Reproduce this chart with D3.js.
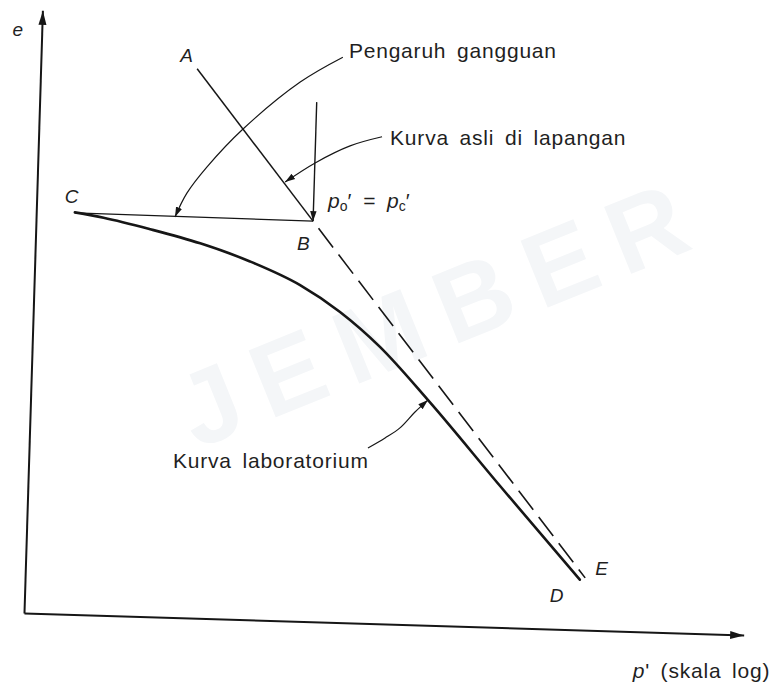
<!DOCTYPE html>
<html>
<head>
<meta charset="utf-8">
<script src="https://cdn.jsdelivr.net/npm/d3@7"></script>
<style>
  body { margin: 0; background: #ffffff; }
  svg { display: block; }
  text { font-family: "Liberation Sans", Arial, Helvetica, sans-serif; fill: #1f1f1f; }
</style>
</head>
<body>
<svg id="chart" width="771" height="684"></svg>
<script>
// Laboratory compression curve C–D: effective pressure p' and void ratio e
const labP = [1.28, 1.54, 2.08, 2.87, 3.96, 5.48, 7.11, 9.24, 12.7, 20.5, 34.7];
const labE = [0.800, 0.791, 0.771, 0.746, 0.713, 0.669, 0.618, 0.551, 0.448, 0.281, 0.100];

// Field (in-situ) virgin line A–B and its extension B–E
const fieldP = [2.72, 5.88, 35.9];
const fieldE = [1.093, 0.797, 0.104];

// Recompression branch C–B
const recompP = [1.28, 5.88];
const recompE = [0.799, 0.797];

// Preconsolidation pressure marker at B (p_o' = p_c')
const markerP = [5.88, 5.88];
const markerE = [1.034, 0.797];

// Leader paths of the three callouts
const disturbP = [6.89, 5.27, 3.69, 2.95, 2.61, 2.43];
const disturbE = [1.125, 1.073, 0.976, 0.898, 0.845, 0.797];
const fieldLeadP = [8.99, 7.34, 5.89, 4.88];
const fieldLeadE = [0.969, 0.949, 0.913, 0.873];
const labLeadP = [8.73, 9.72, 10.67, 11.71, 12.69];
const labLeadE = [0.349, 0.370, 0.391, 0.4235, 0.448];

// Axis extents
const pDomain = [1, 100];
const eDomain = [0, 1.2];

// Text
const axisLabelY = "e";
const axisLabelX = "(skala log)";
const calloutDisturb = "Pengaruh gangguan";
const calloutField = "Kurva asli di lapangan";
const calloutLab = "Kurva laboratorium";
const watermark = "JEMBER";

const svg = d3.select("#chart");
const W = 720, H = 603;
const origin = [24, 613];
const tilt = 1.75; // degrees, the whole drawing leans slightly
const rad = tilt * Math.PI / 180;

const x = d3.scaleLog().domain(pDomain).range([0, W]);
const y = d3.scaleLinear().domain(eDomain).range([0, -H]);

const zip = (ps, es) => ps.map((p, i) => [p, es[i]]);
const toScreen = (p, e) => {
  const lx = x(p), ly = y(e);
  return [origin[0] + lx * Math.cos(rad) - ly * Math.sin(rad),
          origin[1] + lx * Math.sin(rad) + ly * Math.cos(rad)];
};

const ink = "#161616";

// faint background watermark
svg.append("text")
  .attr("transform", "translate(455,345) rotate(-22)")
  .attr("text-anchor", "middle")
  .attr("font-size", 105).attr("font-weight", "bold").attr("letter-spacing", 20)
  .style("fill", "#f4f6f8").text(watermark);

// arrow markers
const defs = svg.append("defs");
defs.append("marker").attr("id", "axisArrow")
  .attr("markerUnits", "userSpaceOnUse").attr("markerWidth", 16).attr("markerHeight", 12)
  .attr("viewBox", "0 -6 16 12").attr("refX", 14).attr("refY", 0).attr("orient", "auto")
  .append("path").attr("d", "M0,-4L14,0L0,4Z").attr("fill", ink);
defs.append("marker").attr("id", "leadArrow")
  .attr("markerUnits", "userSpaceOnUse").attr("markerWidth", 12).attr("markerHeight", 10)
  .attr("viewBox", "0 -5 12 10").attr("refX", 10).attr("refY", 0).attr("orient", "auto")
  .append("path").attr("d", "M0,-3.2L10,0L0,3.2Z").attr("fill", ink);

const g = svg.append("g")
  .attr("transform", `translate(${origin[0]},${origin[1]}) rotate(${tilt})`);

// axes (no ticks, arrow at the far end)
const xAxis = g.append("g").call(d3.axisBottom(x).tickValues([]).tickSizeOuter(0));
const yAxis = g.append("g").call(d3.axisLeft(y).tickValues([]).tickSizeOuter(0));
[xAxis, yAxis].forEach(a => a.select(".domain")
  .attr("stroke", ink).attr("stroke-width", 2).attr("marker-end", "url(#axisArrow)"));

const line = d3.line().x(d => x(d[0])).y(d => y(d[1]));
const smooth = d3.line().x(d => x(d[0])).y(d => y(d[1])).curve(d3.curveCatmullRom.alpha(0.5));
const monotone = d3.line().x(d => x(d[0])).y(d => y(d[1])).curve(d3.curveMonotoneX);

// recompression C–B
g.append("path").datum(zip(recompP, recompE)).attr("d", line)
  .attr("fill", "none").attr("stroke", ink).attr("stroke-width", 1.4);

// field line A–B (solid) and B–E (dashed)
const field = zip(fieldP, fieldE);
g.append("path").datum(field.slice(0, 2)).attr("d", line)
  .attr("fill", "none").attr("stroke", ink).attr("stroke-width", 1.5);
g.append("path").datum(field.slice(1)).attr("d", line)
  .attr("fill", "none").attr("stroke", ink).attr("stroke-width", 1.6)
  .attr("stroke-dasharray", "24 9").attr("stroke-dashoffset", 24);

// laboratory curve C–D
g.append("path").datum(zip(labP, labE)).attr("d", monotone)
  .attr("fill", "none").attr("stroke", ink).attr("stroke-width", 2.6)
  .attr("stroke-linecap", "round");

// vertical marker at B
g.append("path").datum(zip(markerP, markerE)).attr("d", line)
  .attr("fill", "none").attr("stroke", ink).attr("stroke-width", 1.4)
  .attr("marker-end", "url(#leadArrow)");

// callout leaders
[[disturbP, disturbE], [fieldLeadP, fieldLeadE], [labLeadP, labLeadE]].forEach(([ps, es]) => {
  g.append("path").datum(zip(ps, es)).attr("d", smooth)
    .attr("fill", "none").attr("stroke", ink).attr("stroke-width", 1.2)
    .attr("marker-end", "url(#leadArrow)");
});

// ---- text (upright, placed next to the points they describe)
const T = svg.append("g");
const put = (pt, dx, dy) => [pt[0] + dx, pt[1] + dy];

const pointLabel = (txt, pos) => T.append("text")
  .attr("x", pos[0]).attr("y", pos[1])
  .attr("font-size", 19).attr("font-style", "italic").text(txt);

const A = toScreen(fieldP[0], fieldE[0]);
const B = toScreen(fieldP[1], fieldE[1]);
const E = toScreen(fieldP[2], fieldE[2]);
const C = toScreen(labP[0], labE[0]);
const D = toScreen(labP[labP.length - 1], labE[labE.length - 1]);

pointLabel("A", put(A, -17, -7));
pointLabel("B", put(B, -16, 29));
pointLabel("C", put(C, -10, -9));
pointLabel("D", put(D, -30, 22));
pointLabel("E", put(E, 10, -3));

const callout = (txt, pos) => T.append("text")
  .attr("x", pos[0]).attr("y", pos[1])
  .attr("font-size", 21).attr("letter-spacing", 0.8).attr("word-spacing", 4).text(txt);

callout(calloutDisturb, put(toScreen(disturbP[0], disturbE[0]), 6, 1));
callout(calloutField, put(toScreen(fieldLeadP[0], fieldLeadE[0]), 8, 8));
callout(calloutLab, put(toScreen(labLeadP[0], labLeadE[0]), -195, 20));

// p_o' = p_c'
const pEq = T.append("text").attr("font-size", 21)
  .attr("x", put(B, 15, -13)[0]).attr("y", put(B, 15, -13)[1]);
pEq.append("tspan").attr("font-style", "italic").text("p");
pEq.append("tspan").attr("font-size", 14).attr("dy", 3).text("o");
pEq.append("tspan").attr("dy", -3).text("\u2032 \u00a0=\u00a0 ");
pEq.append("tspan").attr("font-style", "italic").text("p");
pEq.append("tspan").attr("font-size", 14).attr("dy", 3).text("c");
pEq.append("tspan").attr("dy", -3).text("\u2032");

// axis titles
const yTop = toScreen(1, eDomain[1]);
T.append("text").attr("x", yTop[0] - 30).attr("y", yTop[1] + 26)
  .attr("font-size", 19).attr("font-style", "italic").text(axisLabelY);

const xEnd = toScreen(pDomain[1], 0);
const xt = T.append("text").attr("x", xEnd[0] - 111).attr("y", xEnd[1] + 43)
  .attr("font-size", 21).attr("letter-spacing", 0.8).attr("word-spacing", 4);
xt.append("tspan").attr("font-style", "italic").text("p");
xt.append("tspan").text("' " + axisLabelX);
</script>
</body>
</html>
